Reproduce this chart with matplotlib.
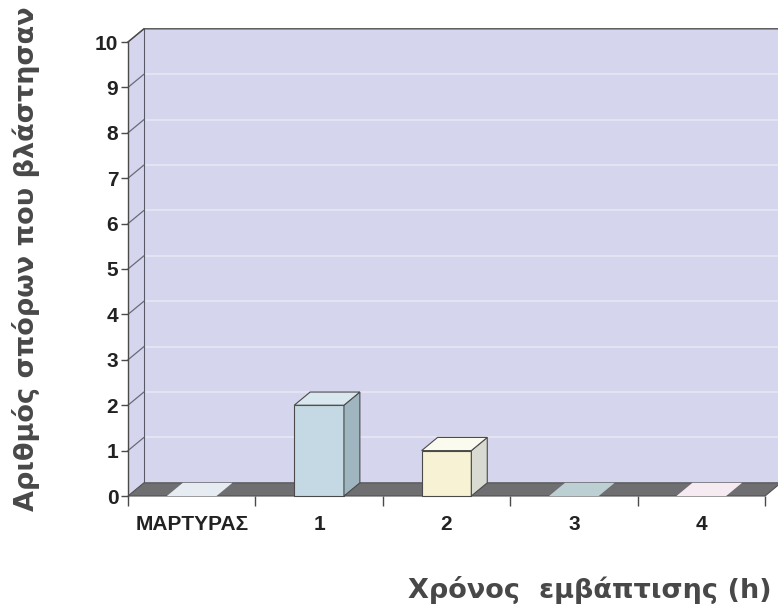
#!/usr/bin/env python3

import numpy as np
import matplotlib.pyplot as plt
from matplotlib.patches import Polygon

# data
categories = ['ΜΑΡΤΥΡΑΣ', '1', '2', '3', '4']
values = [0, 2, 1, 0, 0]
front_colors = ['#dfe6ee', '#c4d9e3', '#f6f2d3', '#b4c9cd', '#f4e4ee']
top_colors = ['#e6ecf2', '#d9e8ee', '#fbfaee', '#bcd0d3', '#f7ebf2']
side_colors = ['#c8d2dc', '#9fb6c0', '#d9dbd2', '#9fb4b8', '#e0ccd8']
yticks = list(range(0, 11))

# 3d look
dx, dy = 0.125, 0.29    # depth offset in data units
w = 0.39                # bar width
wall = '#d5d5ed'
floor = '#6f6f72'
edge = '#4a4a4a'

fig = plt.figure(figsize=(7.78, 6.13), dpi=100)
ax = fig.add_axes([128/778, 117/613, 637/778, 454/613])
n = len(categories)
ax.set_xlim(0, n)
ax.set_ylim(0, 10)
ax.patch.set_visible(False)
for s in ['top', 'right', 'bottom']:
    ax.spines[s].set_visible(False)
ax.spines['left'].set_color(edge)
ax.spines['left'].set_linewidth(1.0)
ax.spines['left'].set_zorder(6)

# side wall and back wall
ax.add_patch(Polygon([(0, 0), (dx, dy), (dx, 10 + dy), (0, 10)], closed=True,
                     facecolor=wall, edgecolor='none', clip_on=False, zorder=0))
ax.add_patch(Polygon([(dx, dy), (n + dx, dy), (n + dx, 10 + dy), (dx, 10 + dy)],
                     closed=True, facecolor=wall, edgecolor='none', clip_on=False, zorder=0))
for v in yticks[1:]:
    ax.plot([dx, n + dx], [v + dy, v + dy], color='#e6e6f4', lw=1.2, clip_on=False, zorder=1)
    ax.plot([0, dx], [v, v + dy], color='#6a6a78', lw=0.9, clip_on=False, zorder=1)
ax.plot([0, dx, n + dx], [10, 10 + dy, 10 + dy], color=edge, lw=1.0, clip_on=False, zorder=2)
ax.plot([dx, dx], [dy, 10 + dy], color='#5a5a66', lw=0.8, clip_on=False, zorder=1)
ax.plot([n + dx, n + dx], [dy, 10 + dy], color='#c4c4dc', lw=0.8, clip_on=False, zorder=1)

# floor
ax.add_patch(Polygon([(0, 0), (n, 0), (n + dx, dy), (dx, dy)], closed=True,
                     facecolor=floor, edgecolor='#505052', lw=0.8, clip_on=False, zorder=2))

# bars
for i, v in enumerate(values):
    c = i + 0.5
    x0, x1 = c - w/2, c + w/2
    if v > 0:
        ax.add_patch(Polygon([(x0, 0), (x1, 0), (x1, v), (x0, v)], closed=True,
                             facecolor=front_colors[i], edgecolor=edge, lw=0.8,
                             clip_on=False, zorder=4))
        ax.add_patch(Polygon([(x1, 0), (x1 + dx, dy), (x1 + dx, v + dy), (x1, v)], closed=True,
                             facecolor=side_colors[i], edgecolor=edge, lw=0.8,
                             clip_on=False, zorder=4))
    ax.add_patch(Polygon([(x0, v), (x1, v), (x1 + dx, v + dy), (x0 + dx, v + dy)], closed=True,
                         facecolor=top_colors[i], edgecolor=edge if v > 0 else 'none', lw=0.8,
                         clip_on=False, zorder=4))

# ticks
ax.set_yticks(yticks)
ax.set_yticklabels([str(t) for t in yticks], fontsize=15, fontweight='bold',
                   family='Liberation Sans', color='#222222')
ax.tick_params(axis='y', direction='out', length=5, width=1, color=edge, pad=2)
ax.set_xticks(np.arange(n + 1))
ax.set_xticklabels([])
ax.set_xticks(np.arange(n) + 0.5, minor=True)
ax.set_xticklabels(categories, minor=True, fontsize=15, fontweight='bold',
                   family='Liberation Sans', color='#222222')
ax.tick_params(axis='x', which='major', direction='out', length=7, width=1, color=edge)
ax.tick_params(axis='x', which='minor', length=0, pad=14)

fig.text(26/778, 1 - 259/613, 'Αριθμός σπόρων που βλάστησαν', rotation=90,
         ha='center', va='center', fontsize=19.5, fontweight='bold', color='#484848',
         family='DejaVu Sans')
fig.text(590/778, 1 - 590/613, 'Χρόνος  εμβάπτισης (h)', ha='center', va='center',
         fontsize=19.5, fontweight='bold', color='#484848', family='DejaVu Sans')

plt.savefig('out.png', dpi=100)
